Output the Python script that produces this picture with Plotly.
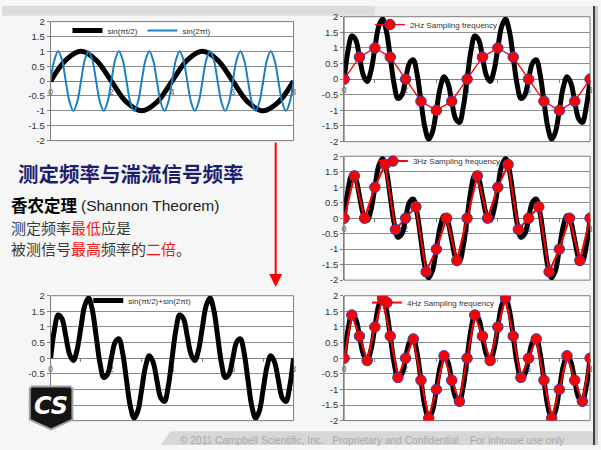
import plotly.graph_objects as go

# ---------------------------------------------------------------------------
# Data: t in seconds, signal = sin(pi t / 2) + sin(2 pi t)
# ---------------------------------------------------------------------------
T_FINE = [0, 0.125, 0.25, 0.375, 0.5, 0.625, 0.75, 0.875,
          1, 1.125, 1.25, 1.375, 1.5, 1.625, 1.75, 1.875,
          2, 2.125, 2.25, 2.375, 2.5, 2.625, 2.75, 2.875,
          3, 3.125, 3.25, 3.375, 3.5, 3.625, 3.75, 3.875,
          4, 4.125, 4.25, 4.375, 4.5, 4.625, 4.75, 4.875,
          5, 5.125, 5.25, 5.375, 5.5, 5.625, 5.75, 5.875,
          6, 6.125, 6.25, 6.375, 6.5, 6.625, 6.75, 6.875,
          7, 7.125, 7.25, 7.375, 7.5, 7.625, 7.75, 7.875, 8]

SIGNAL = [0, 0.902, 1.383, 1.263, 0.707, 0.124, -0.076, 0.274,
          1.0, 1.688, 1.924, 1.538, 0.707, -0.151, -0.617, -0.512,
          0, 0.512, 0.617, 0.151, -0.707, -1.538, -1.924, -1.688,
          -1.0, -0.274, 0.076, -0.124, -0.707, -1.263, -1.383, -0.902,
          0, 0.902, 1.383, 1.263, 0.707, 0.124, -0.076, 0.274,
          1.0, 1.688, 1.924, 1.538, 0.707, -0.151, -0.617, -0.512,
          0, 0.512, 0.617, 0.151, -0.707, -1.538, -1.924, -1.688,
          -1.0, -0.274, 0.076, -0.124, -0.707, -1.263, -1.383, -0.902, 0]

SIN_FAST = [0, 0.707, 1, 0.707, 0, -0.707, -1, -0.707,
            0, 0.707, 1, 0.707, 0, -0.707, -1, -0.707,
            0, 0.707, 1, 0.707, 0, -0.707, -1, -0.707,
            0, 0.707, 1, 0.707, 0, -0.707, -1, -0.707,
            0, 0.707, 1, 0.707, 0, -0.707, -1, -0.707,
            0, 0.707, 1, 0.707, 0, -0.707, -1, -0.707,
            0, 0.707, 1, 0.707, 0, -0.707, -1, -0.707,
            0, 0.707, 1, 0.707, 0, -0.707, -1, -0.707, 0]

# 2 Hz sampling (also the slow component sin(pi t / 2))
T_2HZ = [0, 0.5, 1, 1.5, 2, 2.5, 3, 3.5, 4, 4.5, 5, 5.5, 6, 6.5, 7, 7.5, 8]
S_2HZ = [0, 0.707, 1, 0.707, 0, -0.707, -1, -0.707,
         0, 0.707, 1, 0.707, 0, -0.707, -1, -0.707, 0]

# 3 Hz sampling
T_3HZ = [0, 0.333, 0.667, 1, 1.333, 1.667, 2, 2.333, 2.667, 3, 3.333, 3.667,
         4, 4.333, 4.667, 5, 5.333, 5.667, 6, 6.333, 6.667, 7, 7.333, 7.667, 8]
S_3HZ = [0, 1.366, 0, 1.0, 1.732, -0.366, 0, 0.366, -1.732, -1.0, 0, -1.366,
         0, 1.366, 0, 1.0, 1.732, -0.366, 0, 0.366, -1.732, -1.0, 0, -1.366, 0]

# 4 Hz sampling
T_4HZ = [0, 0.25, 0.5, 0.75, 1, 1.25, 1.5, 1.75, 2, 2.25, 2.5, 2.75,
         3, 3.25, 3.5, 3.75, 4, 4.25, 4.5, 4.75, 5, 5.25, 5.5, 5.75,
         6, 6.25, 6.5, 6.75, 7, 7.25, 7.5, 7.75, 8]
S_4HZ = [0, 1.383, 0.707, -0.076, 1.0, 1.924, 0.707, -0.617,
         0, 0.617, -0.707, -1.924, -1.0, 0.076, -0.707, -1.383,
         0, 1.383, 0.707, -0.076, 1.0, 1.924, 0.707, -0.617,
         0, 0.617, -0.707, -1.924, -1.0, 0.076, -0.707, -1.383, 0]

Y_TICKS = [2, 1.5, 1, 0.5, 0, -0.5, -1, -1.5, -2]
Y_TICK_TEXT = ["2", "1.5", "1", "0.5", "0", "-0.5", "-1", "-1.5", "-2"]
X_TICKS = [0, 1, 2, 3, 4, 5, 6, 7, 8]
X_TICK_TEXT = ["0", "", "2", "", "4", "", "6", "", "8"]

NAME_SLOW = "sin(\u03c0t/2)"
NAME_FAST = "sin(2\u03c0t)"
NAME_SUM = "sin(\u03c0t/2)+sin(2\u03c0t)"
NAME_2HZ = "2Hz Sampling frequency"
NAME_3HZ = "3Hz Sampling frequency"
NAME_4HZ = "4Hz Sampling frequency"

# ---------------------------------------------------------------------------
# Page geometry (pixels -> paper fractions)
# ---------------------------------------------------------------------------
W, H = 601, 450


def px(x):
    return x / W


def py(y):
    return 1 - y / H


# plot-area boxes: (left, right, top, bottom) in pixels
BOXES = {
    1: (49, 294, 16, 138),
    2: (345, 593, 11, 139),
    3: (345, 593, 154, 281),
    4: (345, 593, 297, 425),
    5: (49, 294, 297, 425),
}

TICK_FONT = dict(family="Liberation Sans, Arial", size=9.5, color="#333333")
LEG_FONT = dict(family="Liberation Sans, Arial", size=8, color="#333333")
RED = "#ff0000"
EDGE = "#3c3caa"

fig = go.Figure()


def black_curve(n, name=None, legend=None):
    fig.add_trace(go.Scatter(
        x=T_FINE, y=SIGNAL, mode="lines", line=dict(color="black", width=5, shape="spline"),
        name=name or NAME_SUM, showlegend=name is not None,
        legend=legend, xaxis=f"x{n}", yaxis=f"y{n}", hoverinfo="skip"))


def sampled(n, t, s, name, legend, lw):
    fig.add_trace(go.Scatter(
        x=t, y=s, mode="lines+markers", name=name, legend=legend,
        line=dict(color=RED, width=lw),
        marker=dict(size=10.5, color=RED, line=dict(color=EDGE, width=1)),
        xaxis=f"x{n}", yaxis=f"y{n}"))


# chart 1: the two components
fig.add_trace(go.Scatter(x=T_2HZ, y=S_2HZ, mode="lines", name=NAME_SLOW,
                         line=dict(color="black", width=5, shape="spline"),
                         legend="legend", xaxis="x", yaxis="y"))
fig.add_trace(go.Scatter(x=T_FINE, y=SIN_FAST, mode="lines", name=NAME_FAST,
                         line=dict(color="#1a80c4", width=2, shape="spline"),
                         legend="legend", xaxis="x", yaxis="y"))

# charts 2-4: the signal and its samples
black_curve(2)
sampled(2, T_2HZ, S_2HZ, NAME_2HZ, "legend2", 1.3)
black_curve(3)
sampled(3, T_3HZ, S_3HZ, NAME_3HZ, "legend3", 2)
black_curve(4)
sampled(4, T_4HZ, S_4HZ, NAME_4HZ, "legend4", 2)

# chart 5: the combined signal
black_curve(5, name=NAME_SUM, legend="legend5")

layout = dict(
    width=W, height=H, autosize=False,
    margin=dict(l=0, r=0, t=0, b=0),
    paper_bgcolor="#f6f6f6", plot_bgcolor="white",
    hovermode=False,
)

shapes = []
for n, (l, r, t, b) in BOXES.items():
    sfx = "" if n == 1 else str(n)
    layout[f"xaxis{sfx}"] = dict(
        domain=[px(l), px(r)], range=[0, 8], anchor="free",
        position=(py(t) + py(b)) / 2,
        tickvals=X_TICKS, ticktext=X_TICK_TEXT,
        showgrid=False, zeroline=False, showline=True, linecolor="#808080",
        ticks="outside", ticklen=3, tickcolor="#808080",
        tickfont=dict(family="Liberation Sans, Arial", size=8.5, color="#555555"),
        layer="below traces", fixedrange=True,
    )
    layout[f"yaxis{sfx}"] = dict(
        domain=[py(b), py(t)], range=[-2, 2], anchor=f"x{sfx}",
        tickvals=Y_TICKS, ticktext=Y_TICK_TEXT,
        showgrid=True, gridcolor="#8c8c8c", gridwidth=1, zeroline=False,
        showline=True, linecolor="#808080", ticks="outside", ticklen=3,
        tickcolor="#808080", tickfont=TICK_FONT, fixedrange=True,
    )
    shapes.append(dict(type="rect", xref=f"x{sfx} domain", yref=f"y{sfx} domain",
                       x0=0, x1=1, y0=0, y1=1, layer="below",
                       line=dict(color="#7a7a7a", width=1), fillcolor="rgba(0,0,0,0)"))

# legends placed inside the top of each plot area
LEGEND_POS = {"legend": (66, 25), "legend2": (371, 19), "legend3": (374, 159),
              "legend4": (368, 304), "legend5": (87, 302)}
for key, (lx, ly) in LEGEND_POS.items():
    layout[key] = dict(x=px(lx), y=py(ly), xanchor="left", yanchor="middle",
                       orientation="h", bgcolor="rgba(0,0,0,0)", borderwidth=0,
                       font=LEG_FONT, itemclick=False, itemdoubleclick=False,
                       tracegroupgap=0)
layout["legend"]["entrywidth"] = 30


# slide decoration
def poly(points):
    return "M " + " L ".join(f"{px(x):.5f},{py(y):.5f}" for x, y in points) + " Z"


shapes += [
    dict(type="path", xref="paper", yref="paper", layer="below",
         path=poly([(0, 0), (386, 0), (376, 10), (0, 10)]),
         fillcolor="#dcdcdc", line=dict(width=0)),
    dict(type="rect", xref="paper", yref="paper", layer="below",
         x0=px(376), x1=px(596), y0=py(10), y1=py(0),
         fillcolor="#ececec", line=dict(width=0)),
    dict(type="path", xref="paper", yref="paper", layer="below",
         path=poly([(170, 436), (601, 436), (601, 450), (160, 450)]),
         fillcolor="#d7d7d7", line=dict(width=0)),
    dict(type="rect", xref="paper", yref="paper", layer="above",
         x0=px(596), x1=px(598), y0=0, y1=1,
         fillcolor="#3a3a3a", line=dict(width=0)),
    dict(type="rect", xref="paper", yref="paper", layer="above",
         x0=px(598), x1=1, y0=0, y1=1,
         fillcolor="#c9c9c9", line=dict(width=0)),
    # company shield
    dict(type="path", xref="paper", yref="paper", layer="above",
         path=poly([(28, 392), (30, 390), (69, 390), (71, 392), (71, 424),
                    (49.5, 434), (28, 424)]),
         fillcolor="#151515", line=dict(color="#a0a0a0", width=2)),
]
layout["shapes"] = shapes

CJK = "Noto Sans CJK SC"
P = dict(xref="paper", yref="paper")
annotations = [
    dict(**P, x=px(49.5), y=py(410), text="<b><i>CS</i></b>", showarrow=False,
         font=dict(family="DejaVu Sans", size=24, color="white"),
         xanchor="center", yanchor="middle"),
    dict(**P, x=px(14), y=py(171), text="测定频率与湍流信号频率", showarrow=False,
         font=dict(family=CJK, size=20.5, color="#1e1e6e", weight="bold"),
         xanchor="left", yanchor="middle"),
    dict(**P, x=px(7), y=py(204), text="香农定理", showarrow=False,
         font=dict(family=CJK, size=16.5, color="black", weight="bold"),
         xanchor="left", yanchor="middle"),
    dict(**P, x=px(78), y=py(204), text="(Shannon Theorem)", showarrow=False,
         font=dict(family="Liberation Sans, Arial", size=15.5, color="#222222"),
         xanchor="left", yanchor="middle"),
    dict(**P, x=px(7), y=py(227),
         text="测定频率<span style='color:#ff1010'>最低</span>应是",
         showarrow=False, font=dict(family=CJK, size=15, color="#3a3a3a"),
         xanchor="left", yanchor="middle"),
    dict(**P, x=px(7), y=py(249),
         text="被测信号<span style='color:#ff1010'>最高</span>频率的"
              "<span style='color:#ff1010'>二倍</span>。",
         showarrow=False, font=dict(family=CJK, size=15, color="#3a3a3a"),
         xanchor="left", yanchor="middle"),
    dict(x=px(276), y=py(288), ax=0, ay=-146, text="", showarrow=True,
         arrowhead=2, arrowsize=1.3, arrowwidth=2, arrowcolor="#ff0000",
         xref="paper", yref="paper", standoff=0),
    dict(**P, x=px(177), y=py(438),
         text="\u00a9 2011 Campbell Scientific, Inc.\u00a0\u00a0 Proprietary and Confidential"
              "\u00a0\u00a0\u00a0 For inhouse use only",
         showarrow=False, xanchor="left", yanchor="top",
         font=dict(family="Liberation Sans, Arial", size=10.2, color="#a8a8a8")),
]
layout["annotations"] = annotations

fig.update_layout(**layout)
fig.write_html("out.html")
